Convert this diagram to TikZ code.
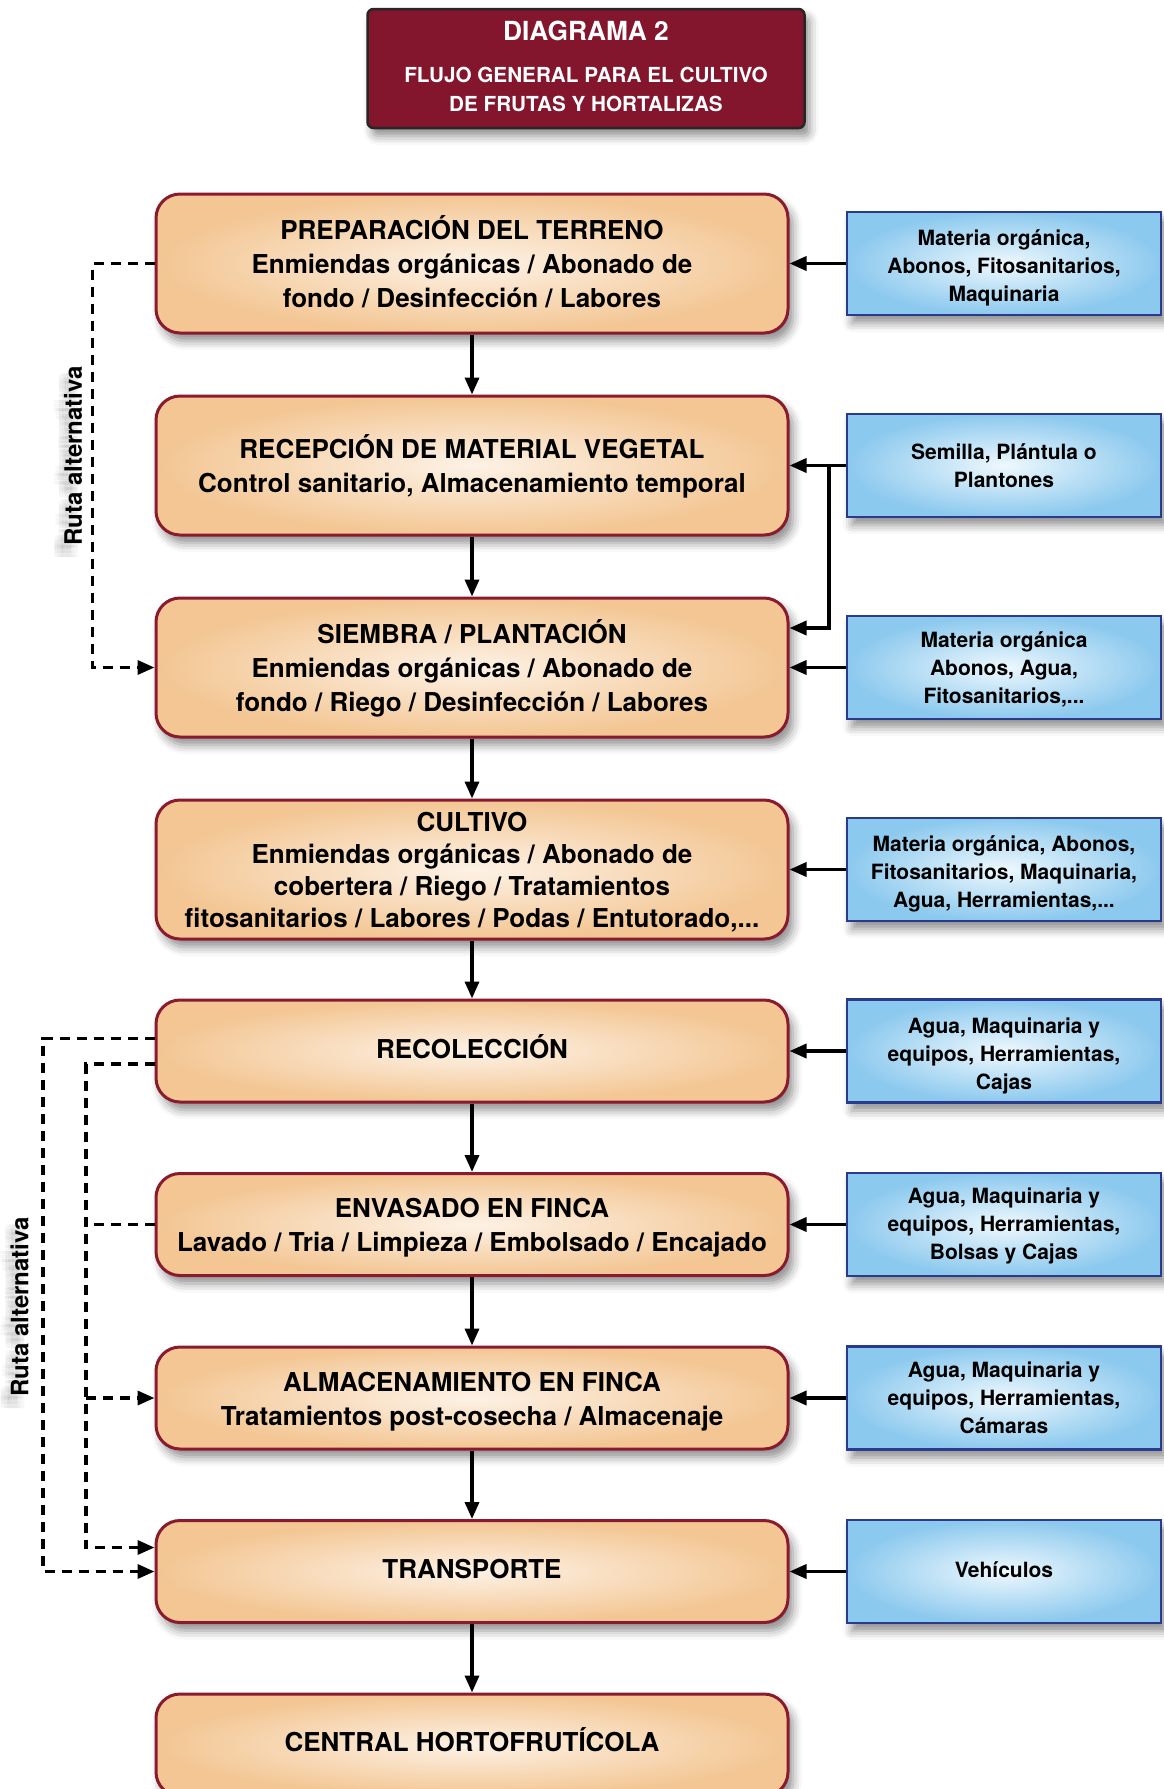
\documentclass[tikz,border=0pt]{standalone}
\usepackage{fontspec}
\setmainfont{TeX Gyre Heros}
\usetikzlibrary{arrows.meta,shadows.blur}
\definecolor{peach}{HTML}{F3C693}
\definecolor{peachin}{HTML}{FDF2E6}
\definecolor{wine}{HTML}{8A1A2E}
\definecolor{skyout}{HTML}{8CC9EE}
\definecolor{skyin}{HTML}{EEF8FD}
\definecolor{navy}{HTML}{2A3A8C}
\definecolor{titlered}{HTML}{83152C}
\newcommand{\mybt}[3]{\raisebox{#1}[\height][\depth]{\parbox{#2}{\centering #3}}}
\begin{document}
\begin{tikzpicture}[x=1pt,y=-1pt,
  mainbox/.style={draw=wine, line width=3pt, rounded corners=24pt, inner color=peachin, outer color=peach,
    minimum width=632pt, font=\bfseries\fontsize{26}{34}\selectfont,
    blur shadow={shadow xshift=5pt, shadow yshift=-8pt, shadow blur radius=9pt, shadow opacity=45}},
  bluebox/.style={draw=navy, line width=2.5pt, inner color=skyin, outer color=skyout,
    minimum width=314pt, minimum height=103pt, font=\bfseries\fontsize{21}{28}\selectfont,
    blur shadow={shadow xshift=5pt, shadow yshift=-8pt, shadow blur radius=9pt, shadow opacity=45}},
  arr/.style={line width=3.5pt, -{Triangle[length=17pt,width=14pt]}},
  dashline/.style={line width=3.5pt, dash pattern=on 10pt off 7pt},
  dasharr/.style={dashline, -{Triangle[length=17pt,width=14pt]}},
  rlabel/.style={rotate=90, font=\bfseries\fontsize{24}{24}\selectfont},
  rghost/.style={rlabel, text=black, opacity=0.03}
]
\useasboundingbox (0,0) rectangle (1163,1789);

% title
\node[draw=black!85, line width=2.5pt, fill=titlered, rounded corners=6pt, minimum width=437pt, minimum height=119pt,
  blur shadow={shadow xshift=5pt, shadow yshift=-8pt, shadow blur radius=9pt, shadow opacity=45}] (t) at (586,68.5) {};
\node[text=white, font=\bfseries\fontsize{26.3}{26}\selectfont] (t1) at (586,31) {DIAGRAMA 2};
\node[text=white, align=center, font=\bfseries\fontsize{20.7}{29}\selectfont] (t2) at (586,89.5) {FLUJO GENERAL PARA EL CULTIVO\\DE FRUTAS Y HORTALIZAS};

% main boxes
\node[mainbox, minimum height=139pt] (m1) at (472,263.5) {\mybt{1.3pt}{610pt}{PREPARACIÓN DEL TERRENO\\Enmiendas orgánicas / Abonado de\\fondo / Desinfección / Labores}};
\node[mainbox, minimum height=139pt] (m2) at (472,465.5) {\mybt{-1.1pt}{610pt}{RECEPCIÓN DE MATERIAL VEGETAL\\Control sanitario, Almacenamiento temporal}};
\node[mainbox, minimum height=139pt] (m3) at (472,667.5) {\mybt{-1.1pt}{610pt}{SIEMBRA / PLANTACIÓN\\Enmiendas orgánicas / Abonado de\\fondo / Riego / Desinfección / Labores}};
\node[mainbox, minimum height=139pt, font=\bfseries\fontsize{26}{32}\selectfont] (m4) at (472,869.5) {\mybt{-2.4pt}{610pt}{CULTIVO\\Enmiendas orgánicas / Abonado de\\cobertera / Riego / Tratamientos\\fitosanitarios / Labores / Podas / Entutorado,...}};
\node[mainbox, minimum height=102pt] (m5) at (472,1051) {\mybt{4.4pt}{610pt}{RECOLECCIÓN}};
\node[mainbox, minimum height=102pt] (m6) at (472,1224.5) {\mybt{-3.4pt}{610pt}{ENVASADO EN FINCA\\Lavado / Tria / Limpieza / Embolsado / Encajado}};
\node[mainbox, minimum height=102pt] (m7) at (472,1398) {\mybt{-3.4pt}{610pt}{ALMACENAMIENTO EN FINCA\\Tratamientos post-cosecha / Almacenaje}};
\node[mainbox, minimum height=102pt] (m8) at (472,1571.5) {\mybt{2.3pt}{610pt}{TRANSPORTE}};
\node[mainbox, minimum height=102pt] (m9) at (472,1745) {\mybt{5.5pt}{610pt}{CENTRAL HORTOFRUTÍCOLA}};

% blue boxes
\node[bluebox] (b1) at (1004,263.5) {\mybt{-4.5pt}{295pt}{Materia orgánica,\\Abonos, Fitosanitarios,\\Maquinaria}};
\node[bluebox] (b2) at (1004,465.5) {\mybt{0pt}{295pt}{Semilla, Plántula o\\Plantones}};
\node[bluebox] (b3) at (1004,667.5) {\mybt{-2.3pt}{295pt}{Materia orgánica\\Abonos, Agua,\\Fitosanitarios,...}};
\node[bluebox] (b4) at (1004,869.5) {\mybt{-4.5pt}{295pt}{Materia orgánica, Abonos,\\Fitosanitarios, Maquinaria,\\Agua, Herramientas,...}};
\node[bluebox] (b5) at (1004,1051) {\mybt{-4.5pt}{295pt}{Agua, Maquinaria y\\equipos, Herramientas,\\Cajas}};
\node[bluebox] (b6) at (1004,1224.5) {\mybt{-1.1pt}{295pt}{Agua, Maquinaria y\\equipos, Herramientas,\\Bolsas y Cajas}};
\node[bluebox] (b7) at (1004,1398) {\mybt{0pt}{295pt}{Agua, Maquinaria y\\equipos, Herramientas,\\Cámaras}};
\node[bluebox] (b8) at (1004,1571.5) {\mybt{2.3pt}{295pt}{Vehículos}};

% vertical flow
\draw[arr] (m1.south) -- (m2.north);
\draw[arr] (m2.south) -- (m3.north);
\draw[arr] (m3.south) -- (m4.north);
\draw[arr] (m4.south) -- (m5.north);
\draw[arr] (m5.south) -- (m6.north);
\draw[arr] (m6.south) -- (m7.north);
\draw[arr] (m7.south) -- (m8.north);
\draw[arr] (m8.south) -- (m9.north);

% inputs
\draw[arr] (b1.west) -- (m1.east);
\draw[arr] (b2.west) -- (m2.east);
\coordinate (j1) at (829,465.5);
\coordinate (j2) at (829,628);
\draw[arr, line join=miter] (j1) -- (j2) -- (j2 -| m3.east);
\draw[arr] (b3.west) -- (m3.east);
\draw[arr] (b4.west) -- (m4.east);
\draw[arr] (b5.west) -- (m5.east);
\draw[arr] (b6.west) -- (m6.east);
\draw[arr] (b7.west) -- (m7.east);
\draw[arr] (b8.west) -- (m8.east);

% blurred label shadows
\foreach \dx in {-10,-7,-4} {
  \foreach \dy in {6,10,14} {
    \node[rghost] (g1a\dx b\dy) at (73+\dx,456+\dy) {Ruta alternativa};
    \node[rghost] (g2a\dx b\dy) at (19.5+\dx,1307+\dy) {Ruta alternativa};
  }
}

% alternative routes
\draw[dasharr] (m1.west) -- ++(-62,0) |- (m3.west);
\node[rlabel] (r1) at (73,456) {Ruta alternativa};

\coordinate (o1) at (43,1038.6);
\draw[dasharr] ([yshift=12.4pt]m5.west) -- (o1) |- (m8.west);
\coordinate (i1) at (86,1064);
\draw[dasharr] ([yshift=-13pt]m5.west) -- (i1) |- ([yshift=24pt]m8.west);
\draw[dashline] (m6.west) -- (m6.west -| i1);
\draw[dasharr] (m7.west -| i1) -- (m7.west);
\node[rlabel] (r2) at (19.5,1307) {Ruta alternativa};
\end{tikzpicture}
\end{document}
